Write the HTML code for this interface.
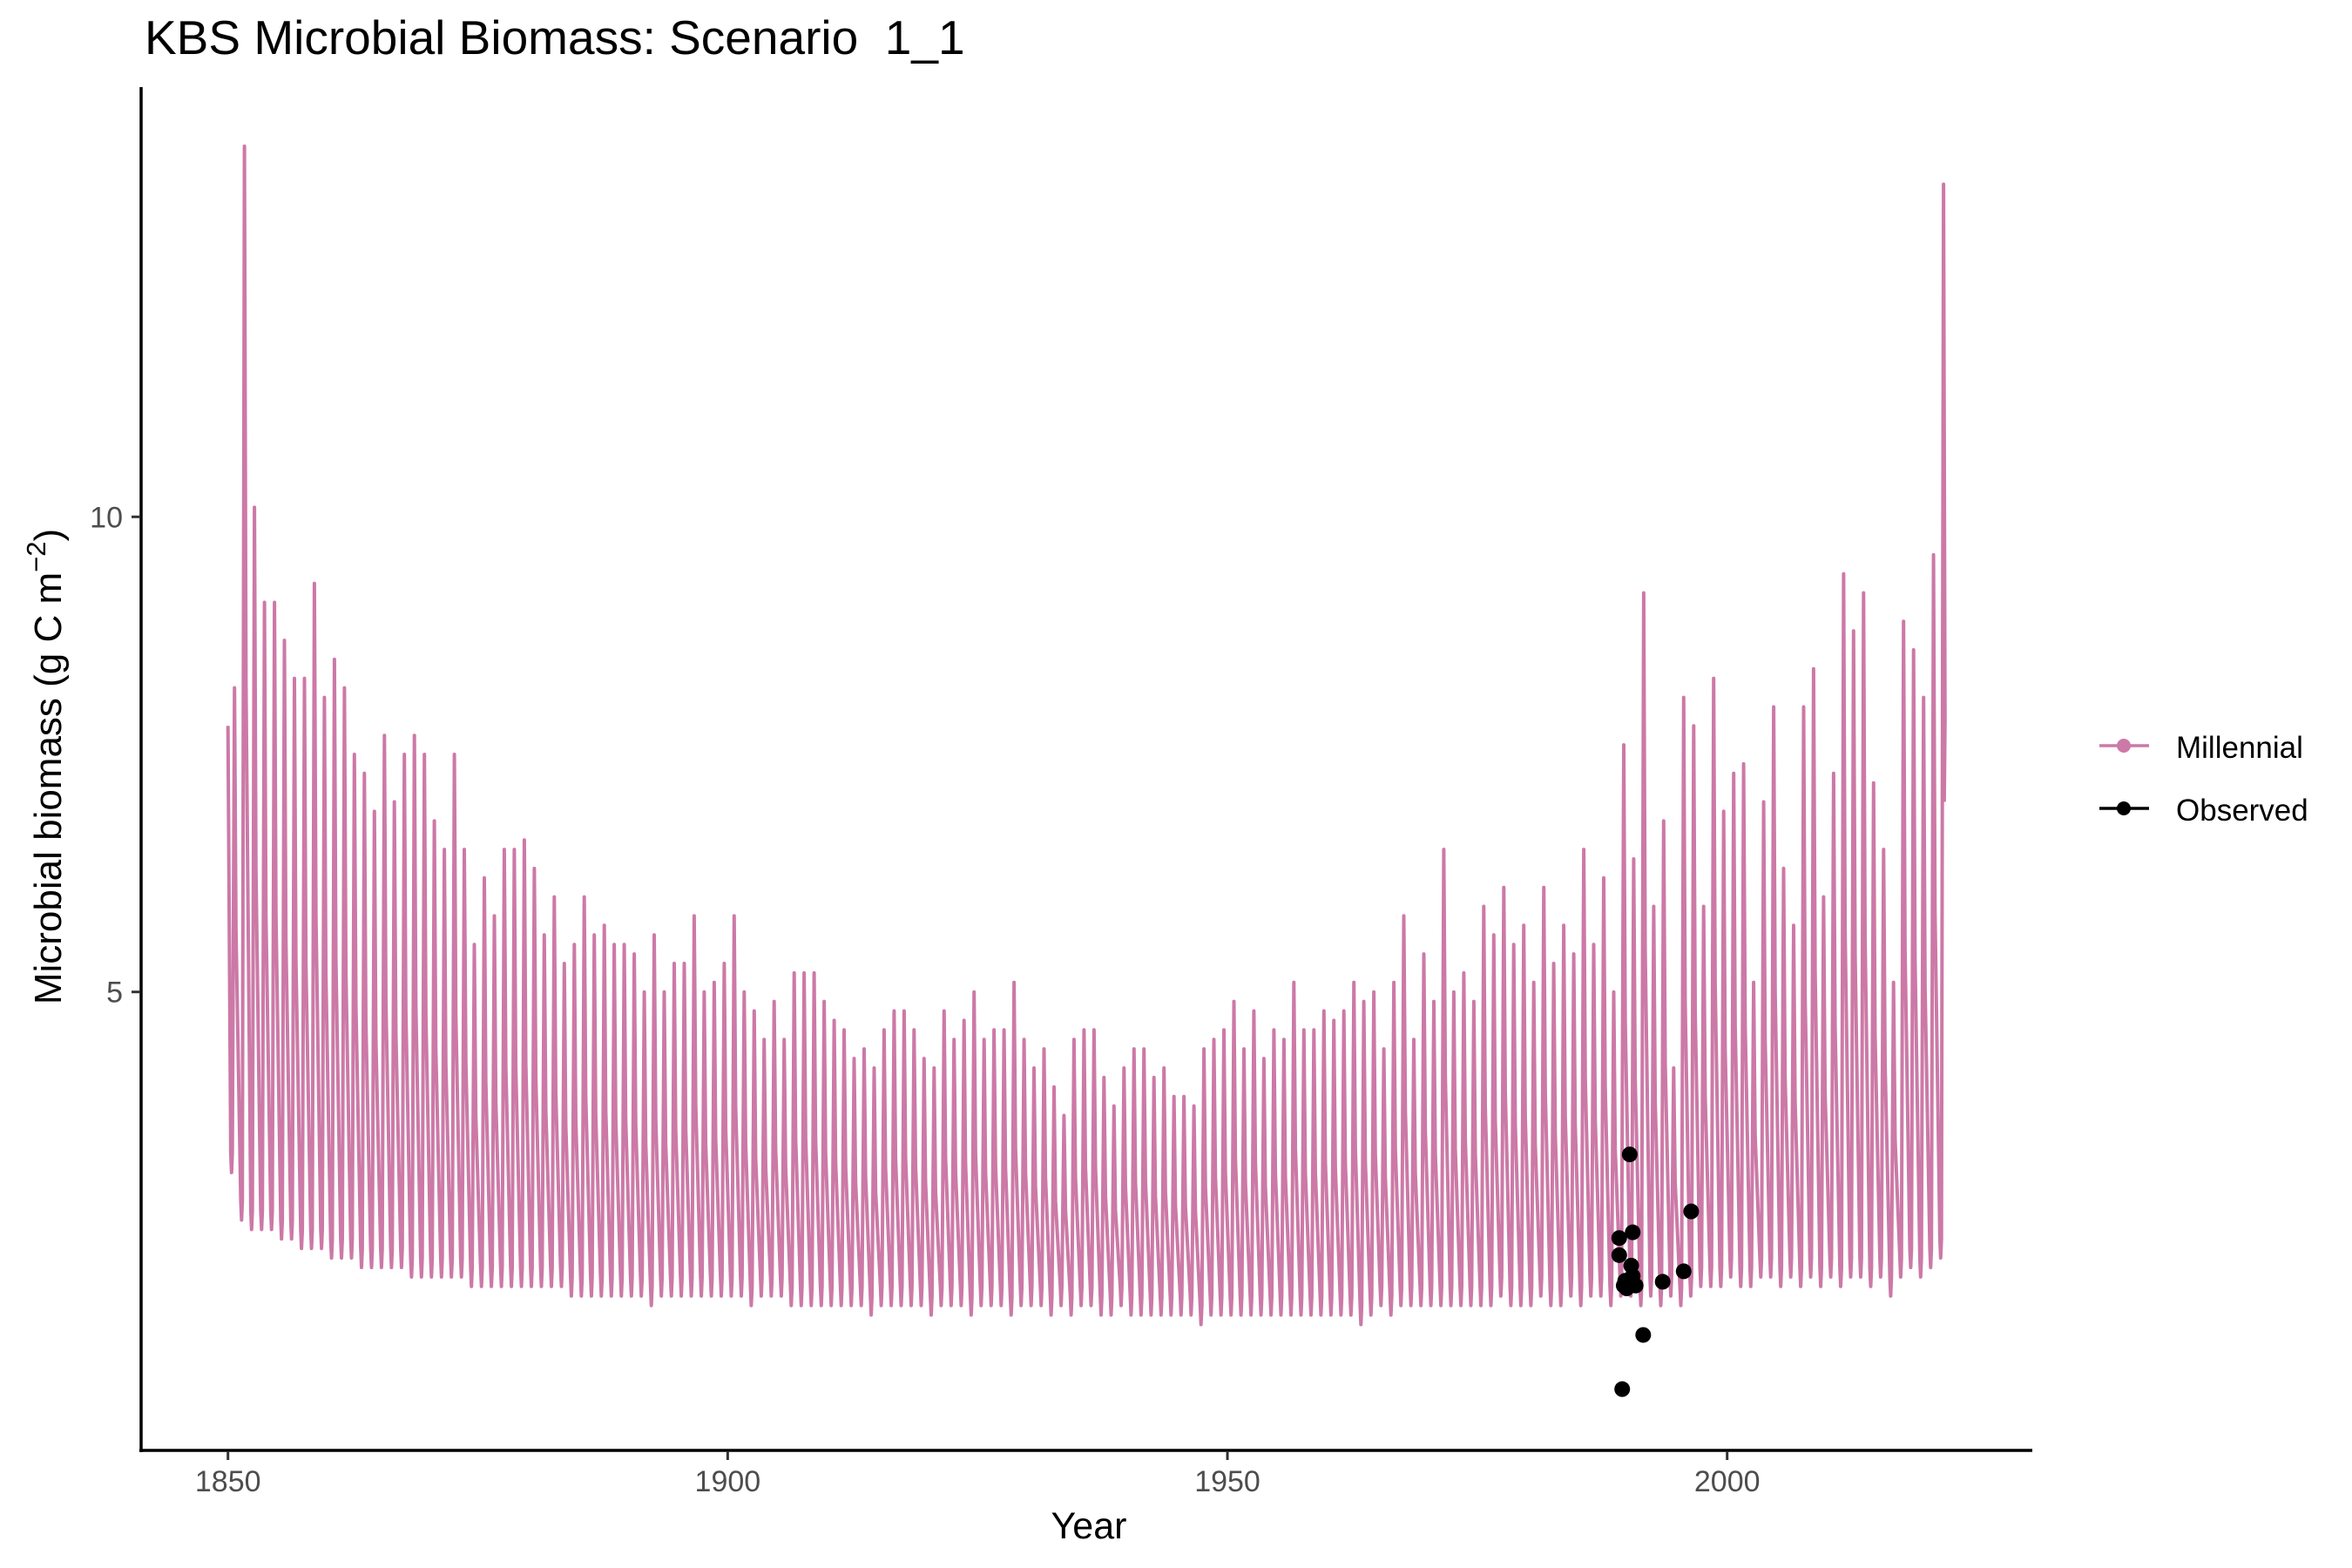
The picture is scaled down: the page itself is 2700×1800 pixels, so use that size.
<!DOCTYPE html>
<html><head><meta charset="utf-8"><style>html,body{margin:0;padding:0;background:#fff}svg{display:block}text{font-family:"Liberation Sans",sans-serif}</style></head>
<body>
<svg id="chart" width="2700" height="1800" viewBox="0 0 2700 1800" xmlns="http://www.w3.org/2000/svg">
<rect width="2700" height="1800" fill="#fff"/>
<text x="166" y="62" font-size="55" fill="#000" xml:space="preserve">KBS Microbial Biomass: Scenario  1_1</text>
<g id="plot"></g>
<line x1="162" y1="100" x2="162" y2="1667" stroke="#000" stroke-width="3.5"/>
<line x1="160" y1="1665" x2="2333" y2="1665" stroke="#000" stroke-width="3.5"/>
<g id="xticks"></g>
<g id="yticks"></g>
<text x="1250" y="1766" font-size="43" text-anchor="middle">Year</text>
<text transform="translate(70,880) rotate(-90)" font-size="44" text-anchor="middle">Microbial biomass (g C m<tspan dy="-18" font-size="31">−2</tspan><tspan dy="18">)</tspan></text>
<g>
<g>
<line x1="2410" y1="856" x2="2467" y2="856" stroke="#CC79A7" stroke-width="3.5"/>
<circle cx="2438" cy="856" r="8" fill="#CC79A7"/>
<text x="2498" y="870" font-size="35">Millennial</text></g>
<g>
<line x1="2410" y1="928" x2="2467" y2="928" stroke="#000" stroke-width="3.5"/>
<circle cx="2438" cy="928" r="8" fill="#000"/>
<text x="2498" y="942" font-size="35">Observed</text></g>
</g>
</svg>
<script>
const startYear = 1850;
const startValue = 7.8;
const peaks = [8.2,13.9,10.1,9.1,9.1,8.7,8.3,8.3,9.3,8.1,8.5,8.2,7.5,7.3,6.9,7.7,7.0,7.5,7.7,7.5,
6.8,6.5,7.5,6.5,5.5,6.2,5.8,6.5,6.5,6.6,6.3,5.6,6.0,5.3,5.5,6.0,5.6,5.7,5.5,5.5,
5.4,5.0,5.6,5.0,5.3,5.3,5.8,5.0,5.1,5.3,5.8,5.0,4.8,4.5,4.9,4.5,5.2,5.2,5.2,4.9,
4.7,4.6,4.3,4.4,4.2,4.6,4.8,4.8,4.6,4.3,4.2,4.8,4.5,4.7,5.0,4.5,4.6,4.6,5.1,4.5,
4.2,4.4,4.0,3.7,4.5,4.6,4.6,4.1,3.8,4.2,4.4,4.4,4.1,4.2,3.9,3.9,3.8,4.4,4.5,4.6,
4.9,4.4,4.8,4.3,4.6,4.5,5.1,4.6,4.6,4.8,4.7,4.8,5.1,4.9,5.0,4.4,5.1,5.8,4.5,5.4,
4.9,6.5,5.0,5.2,4.9,5.9,5.6,6.1,5.5,5.7,5.1,6.1,5.3,5.7,5.4,6.5,5.5,6.2,5.0,7.6,
6.4,9.2,5.9,6.8,4.2,8.1,7.8,5.9,8.3,6.9,7.3,7.4,5.1,7.0,8.0,6.3,5.7,8.0,8.4,6.0,
7.3,9.4,8.8,9.2,7.2,6.5,5.1,8.9,8.6,8.1,9.6,13.5];
const troughs = [3.1,2.6,2.5,2.5,2.5,2.4,2.4,2.3,2.3,2.3,2.2,2.2,2.2,2.1,2.1,2.1,2.1,2.1,2.0,2.0,
2.0,2.0,2.0,2.0,1.9,1.9,1.9,1.9,1.9,1.9,1.9,1.9,1.9,1.9,1.8,1.8,1.8,1.8,1.8,1.8,
1.8,1.8,1.7,1.8,1.8,1.8,1.8,1.8,1.8,1.8,1.8,1.8,1.7,1.8,1.8,1.8,1.7,1.7,1.7,1.7,
1.7,1.7,1.7,1.7,1.6,1.7,1.7,1.7,1.7,1.7,1.6,1.7,1.7,1.7,1.6,1.7,1.7,1.7,1.6,1.7,
1.7,1.7,1.6,1.7,1.6,1.7,1.7,1.6,1.6,1.7,1.6,1.6,1.6,1.6,1.6,1.6,1.6,1.5,1.6,1.6,
1.6,1.6,1.6,1.6,1.6,1.6,1.6,1.6,1.6,1.6,1.6,1.6,1.6,1.5,1.6,1.7,1.6,1.7,1.7,1.7,
1.7,1.7,1.7,1.7,1.7,1.7,1.7,1.8,1.7,1.7,1.7,1.8,1.7,1.7,1.8,1.7,1.8,1.8,1.7,1.8,
1.8,1.7,1.8,1.7,1.8,1.7,1.8,1.9,1.9,1.9,2.0,1.9,1.9,2.0,2.0,1.9,2.0,1.9,2.0,1.9,
2.0,1.9,2.0,2.0,1.9,2.0,1.8,2.0,2.1,2.0,2.1,2.2];
const obsYears = [1989.2,1989.2,1990.25,1990.55,1990.4,1990.55,1989.65,1989.95,1990.85,1991.6,1989.5,1993.55,1995.65,1996.4,1989.8];
const obsValues = [2.41,2.23,3.29,2.47,2.12,2.01,1.91,1.88,1.91,1.39,0.82,1.95,2.06,2.69,1.96];
const xTicks = [1850,1900,1950,2000];
const yTicks = [5,10];

const NS = "http://www.w3.org/2000/svg";
const xs = yr => 261.7 + (yr - 1850) * (1982.7 - 261.7) / 150;
const ys = v => 1138.7 - (v - 5) * (1138.7 - 593.3) / 5;

const plot = document.getElementById('plot');
let d = `M${xs(startYear)},${ys(startValue)}`;
for (let i = 0; i < peaks.length; i++) {
  const yr = startYear + i;
  const t = troughs[i];
  d += ` L${xs(yr+0.28).toFixed(1)},${ys(t+0.2).toFixed(1)}`;
  d += ` L${xs(yr+0.36).toFixed(1)},${ys(t).toFixed(1)}`;
  d += ` L${xs(yr+0.44).toFixed(1)},${ys(t+0.2).toFixed(1)}`;
  d += ` L${xs(yr+0.65).toFixed(1)},${ys(peaks[i]).toFixed(1)}`;
  d += ` L${xs(yr+0.8).toFixed(1)},${ys(t+(peaks[i]-t)*0.5).toFixed(1)}`;
}
const last = peaks.length - 1;
d += ` L${xs(startYear+last+0.72).toFixed(1)},${ys(7.0).toFixed(1)}`;
const path = document.createElementNS(NS, 'path');
path.setAttribute('d', d);
path.setAttribute('fill', 'none');
path.setAttribute('stroke', '#CC79A7');
path.setAttribute('stroke-width', '4');
path.setAttribute('stroke-linejoin', 'round');


plot.appendChild(path);

for (let i = 0; i < obsYears.length; i++) {
  const c = document.createElementNS(NS, 'circle');
  c.setAttribute('cx', xs(obsYears[i]));
  c.setAttribute('cy', ys(obsValues[i]));
  c.setAttribute('r', '9');
  c.setAttribute('fill', '#000');
  
  
  plot.appendChild(c);
}

const xg = document.getElementById('xticks');
xTicks.forEach(v => {
  const l = document.createElementNS(NS, 'line');
  l.setAttribute('x1', xs(v)); l.setAttribute('x2', xs(v));
  l.setAttribute('y1', 1666); l.setAttribute('y2', 1676);
  l.setAttribute('stroke', '#333'); l.setAttribute('stroke-width', '3');
  
  
  xg.appendChild(l);
  const t = document.createElementNS(NS, 'text');
  t.setAttribute('x', xs(v)); t.setAttribute('y', 1712);
  t.setAttribute('font-size', '34'); t.setAttribute('fill', '#4d4d4d');
  t.setAttribute('text-anchor', 'middle');
  
  
  t.textContent = v;
  xg.appendChild(t);
});
const yg = document.getElementById('yticks');
yTicks.forEach(v => {
  const l = document.createElementNS(NS, 'line');
  l.setAttribute('x1', 151); l.setAttribute('x2', 161);
  l.setAttribute('y1', ys(v)); l.setAttribute('y2', ys(v));
  l.setAttribute('stroke', '#333'); l.setAttribute('stroke-width', '3');
  
  
  yg.appendChild(l);
  const t = document.createElementNS(NS, 'text');
  t.setAttribute('x', 141); t.setAttribute('y', ys(v) + 12);
  t.setAttribute('font-size', '34'); t.setAttribute('fill', '#4d4d4d');
  t.setAttribute('text-anchor', 'end');
  
  
  t.textContent = v;
  yg.appendChild(t);
});
</script>
</body></html>
